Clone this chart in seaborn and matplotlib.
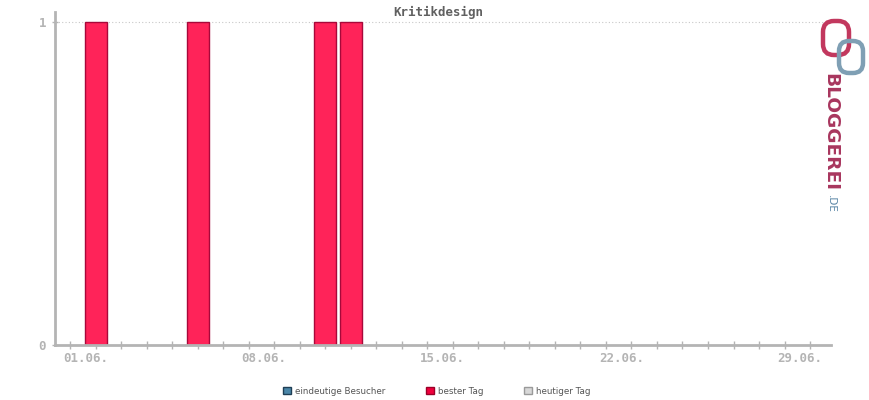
"""Bloggerei-style daily bar chart: Kritikdesign, June."""

import numpy as np
import pandas as pd
import matplotlib
matplotlib.use("Agg")
import matplotlib.pyplot as plt
import matplotlib.transforms as mtrans
from matplotlib.patches import Patch, FancyBboxPatch
import seaborn as sns


# ── Data ──────────────────────────────────────────────────────────────────────
TITLE      = "Kritikdesign"
days       = list(range(0, 30))          # 0 = 31.05., 29 = 29.06.
best_day   = [0, 1, 0, 0, 0, 1, 0, 0, 0, 0, 1, 1, 0, 0, 0,
              0, 0, 0, 0, 0, 0, 0, 0, 0, 0, 0, 0, 0, 0, 0]
tick_days  = [1, 8, 15, 22, 29]
tick_names = ["01.06.", "08.06.", "15.06.", "22.06.", "29.06."]
y_ticks    = [0, 1]
legend_lbl = ["eindeutige Besucher", "bester Tag", "heutiger Tag"]

# ── Style ─────────────────────────────────────────────────────────────────────
AXIS_GREY = "#b4b4b4"
BAR_FACE  = "#ff2359"
BAR_EDGE  = "#a8083a"
MONO      = "DejaVu Sans Mono"

sns.set_style("white")
plt.rcParams["font.family"] = ["DejaVu Sans"]

fig = plt.figure(figsize=(8.7, 4.0), dpi=100)
ax = fig.add_axes([55 / 870, 1 - 345 / 400, 776 / 870, 333 / 400])

df = pd.DataFrame({"day": days, "best": best_day})
df = df[df["best"] > 0]
sns.barplot(data=df, x="day", y="best", native_scale=True, width=0.86,
            color=BAR_FACE, edgecolor=BAR_EDGE, linewidth=1, saturation=1,
            ax=ax)

ax.set_xlim(-0.59, 29.82)
ax.set_ylim(0, 1.031)
ax.set_xlabel(""); ax.set_ylabel("")

# dotted gridline at 1
ax.axhline(1, color="#c8c8c8", lw=0.8, ls=(0, (1, 2)), zorder=0)

# spines
for s in ("top", "right"):
    ax.spines[s].set_visible(False)
for s in ("left", "bottom"):
    ax.spines[s].set_color(AXIS_GREY)
    ax.spines[s].set_linewidth(2)

# ticks
ax.set_xticks(days, minor=True)
ax.set_xticks(tick_days)
ax.set_xticklabels(tick_names)
ax.tick_params(axis="x", which="both", bottom=True, direction="inout",
               length=6, width=1, color=AXIS_GREY, labelcolor=AXIS_GREY, pad=2)
ax.set_yticks(y_ticks)
ax.tick_params(axis="y", left=True, direction="inout", length=5, width=1,
               color=AXIS_GREY, labelcolor=AXIS_GREY, pad=4)
for lab in ax.get_xticklabels() + ax.get_yticklabels():
    lab.set_fontfamily(MONO)
    lab.set_fontweight("bold")
    lab.set_fontsize(9)
shift = mtrans.ScaledTranslation(-0.10, 0, fig.dpi_scale_trans)
for lab in ax.get_xticklabels():
    lab.set_transform(lab.get_transform() + shift)

# title
fig.text(438 / 870, 1 - 12 / 400, TITLE, ha="center", va="center",
         fontfamily=MONO, fontweight="bold", fontsize=9, color="#606060")

# legend
handles = [
    Patch(facecolor="#4a86a8", edgecolor="#1f3f55", lw=1),
    Patch(facecolor="#f0003c", edgecolor="#9a0028", lw=1),
    Patch(facecolor="#d8d8d8", edgecolor="#9a9a9a", lw=1),
]
leg = fig.legend(handles, legend_lbl, loc="center", ncol=3,
                 bbox_to_anchor=(437 / 870, 1 - 391 / 400), frameon=False,
                 fontsize=6.3, handlelength=0.9, handleheight=0.9,
                 handletextpad=0.5, columnspacing=4.6)
for t in leg.get_texts():
    t.set_color("#555555")

# ── Bloggerei logo ────────────────────────────────────────────────────────────
lax = fig.add_axes([815 / 870, 1 - 78 / 400, 55 / 870, 63 / 400])
lax.set_xlim(0, 55); lax.set_ylim(63, 0)
lax.axis("off")
lax.add_patch(FancyBboxPatch((10, 8), 22, 30, boxstyle="round,pad=2,rounding_size=11",
                             fill=False, ec="#c2385e", lw=3.2))
lax.add_patch(FancyBboxPatch((26, 28), 20, 28, boxstyle="round,pad=2,rounding_size=10",
                             fill=False, ec="#7f9fb4", lw=3.2))
fig.text(830 / 870, 1 - 73 / 400, "BLOGGEREI", rotation=-90, ha="center",
         va="top", fontsize=13.3, fontweight="bold", color="#a8365e",
         fontfamily="DejaVu Sans")
fig.text(831 / 870, 1 - 195 / 400, ".DE", rotation=-90, ha="center",
         va="top", fontsize=7.5, color="#5a86a6", fontfamily="DejaVu Sans")

fig.savefig("out.png", dpi=100)
plt.close(fig)
